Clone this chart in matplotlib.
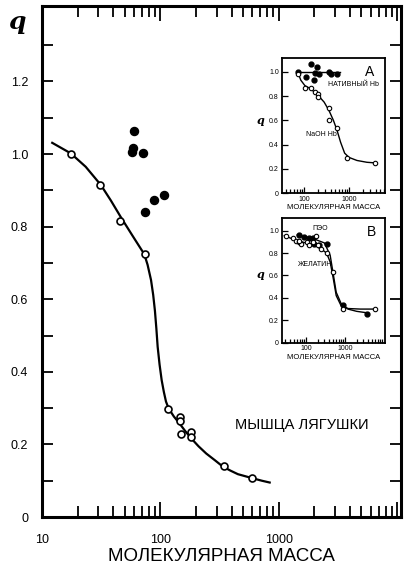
import matplotlib
matplotlib.use("Agg")
import matplotlib.pyplot as plt
from matplotlib.ticker import FixedLocator, NullFormatter, FixedFormatter, LogLocator

plt.rcParams['font.family'] = ['Liberation Sans', 'DejaVu Sans']

# main plot: frog muscle
frog_mw = [17.6, 31, 46, 74, 117, 146, 146, 150, 182, 182, 342, 590]
frog_q = [1.0, 0.915, 0.816, 0.726, 0.297, 0.276, 0.265, 0.229, 0.235, 0.221, 0.140, 0.107]
frog_curve_mw = [12.2, 17.5, 23.4, 31.4, 38.2, 46.4, 58.2, 73.2, 78, 83.4, 87, 90, 92.5,
                 94.9, 98.5, 102.6, 107, 111.6, 117.5, 130, 145, 162, 182, 210, 244, 290,
                 337, 390, 452, 598, 720, 839]
frog_curve_q = [1.031, 1.002, 0.965, 0.915, 0.872, 0.826, 0.775, 0.724, 0.695, 0.653,
                0.612, 0.568, 0.52, 0.469, 0.42, 0.377, 0.345, 0.318, 0.299, 0.277, 0.258,
                0.237, 0.217, 0.195, 0.175, 0.156, 0.139, 0.128, 0.118, 0.107, 0.1, 0.095]
filled_mw = [59.4, 57.5, 59, 70.7, 74.6, 87.7, 108]
filled_q = [1.064, 1.006, 1.016, 1.004, 0.841, 0.873, 0.887]

# inset A: haemoglobin
naoh_mw = [72, 105, 141, 176, 208, 208, 366, 355, 533, 920, 3800]
naoh_q = [0.98, 0.868, 0.868, 0.83, 0.82, 0.795, 0.70, 0.60, 0.54, 0.293, 0.247]
naoh_curve_mw = [72, 85, 105, 140, 200, 280, 360, 450, 540, 650, 800, 1000, 1500, 2500, 3800]
naoh_curve_q = [1.0, 0.93, 0.885, 0.86, 0.81, 0.75, 0.68, 0.60, 0.52, 0.42, 0.33, 0.295, 0.27, 0.255, 0.25]
native_mw = [72, 110, 141, 167, 180, 196, 213, 355, 397, 533]
native_q = [1.0, 0.96, 1.06, 0.93, 0.99, 1.04, 0.98, 1.0, 0.98, 0.98]
native_line_mw = [72, 630]
native_line_q = [1.0, 1.0]

# inset B: gelatin and PEO
gel_mw = [31, 46, 55, 65, 74, 67, 110, 117, 148, 180, 199, 243, 340, 483, 870, 6000]
gel_q = [0.955, 0.93, 0.91, 0.895, 0.88, 0.91, 0.895, 0.87, 0.90, 0.955, 0.87, 0.835, 0.80, 0.63, 0.30, 0.30]
gel_curve_mw = [28, 50, 100, 200, 340, 420, 500, 600, 800, 1200, 2500, 6000]
gel_curve_q = [0.955, 0.92, 0.89, 0.86, 0.80, 0.72, 0.58, 0.42, 0.33, 0.305, 0.30, 0.30]
peo_mw = [67, 91, 122, 148, 164, 220, 340, 910, 3600]
peo_q = [0.96, 0.94, 0.93, 0.93, 0.885, 0.87, 0.885, 0.34, 0.255]
peo_curve_mw = [60, 150, 300, 420, 500, 600, 800, 1200, 2000, 4000]
peo_curve_q = [0.96, 0.93, 0.89, 0.78, 0.62, 0.45, 0.35, 0.30, 0.28, 0.265]

W, H = 407, 568
fig = plt.figure(figsize=(W / 100, H / 100), dpi=100)

ax = fig.add_axes([42 / W, 1 - 517 / H, (401 - 42) / W, (517 - 6) / H])
ax.set_xscale('log')
ax.set_xlim(10, 10800)
ax.set_ylim(0, 1.408)
ax.plot(frog_curve_mw, frog_curve_q, color='black', lw=1.6, solid_joinstyle='round')
ax.plot(frog_mw, frog_q, 'o', mfc='white', mec='black', mew=1.2, ms=5)
ax.plot(filled_mw, filled_q, 'o', color='black', ms=5.8)

for s in ax.spines.values():
    s.set_linewidth(2.2)
ax.xaxis.set_major_locator(FixedLocator([10, 100, 1000, 10000]))
ax.xaxis.set_major_formatter(FixedFormatter(['10', '100', '1000', '']))
ax.xaxis.set_minor_locator(LogLocator(base=10, subs=range(2, 10)))
ax.xaxis.set_minor_formatter(NullFormatter())
yt = [i / 10 for i in range(0, 14)]
ax.yaxis.set_major_locator(FixedLocator(yt))
ax.yaxis.set_major_formatter(FixedFormatter(
    ['0', '', '0.2', '', '0.4', '', '0.6', '', '0.8', '', '1.0', '', '1.2', '']))
ax.tick_params(which='both', direction='in', top=True, right=True, width=1.3, labelsize=9)
ax.tick_params(axis='x', which='major', length=11, pad=12)
ax.tick_params(axis='x', which='minor', length=8)
ax.tick_params(axis='y', which='major', length=8, pad=10)
ax.set_xlabel('МОЛЕКУЛЯРНАЯ МАССА', fontsize=13.5, labelpad=2)
fig.text(17 / W, 1 - 22 / H, 'q', fontsize=18, fontstyle='italic', fontweight='bold',
         family='DejaVu Serif', ha='center', va='center')
ax.text(1570, 0.254, 'МЫШЦА ЛЯГУШКИ', fontsize=10.5, ha='center', va='center')


def style_inset(a, xlim):
    a.set_xscale('log')
    a.set_xlim(*xlim)
    a.set_ylim(0, 1.11)
    for s in a.spines.values():
        s.set_linewidth(1.3)
    a.xaxis.set_major_locator(FixedLocator([100, 1000]))
    a.xaxis.set_major_formatter(FixedFormatter(['100', '1000']))
    a.xaxis.set_minor_locator(LogLocator(base=10, subs=range(2, 10)))
    a.xaxis.set_minor_formatter(NullFormatter())
    a.yaxis.set_major_locator(FixedLocator([0, 0.2, 0.4, 0.6, 0.8, 1.0]))
    a.yaxis.set_major_formatter(FixedFormatter(['0', '0.2', '0.4', '0.6', '0.8', '1.0']))
    a.tick_params(which='both', direction='in', labelsize=5, width=0.9, pad=2)
    a.tick_params(which='major', length=4)
    a.tick_params(which='minor', length=3)
    a.set_xlabel('МОЛЕКУЛЯРНАЯ МАССА', fontsize=5.5, labelpad=1)
    a.set_ylabel('q', fontsize=8, fontstyle='italic', fontweight='bold', rotation=0,
                 labelpad=6, family='DejaVu Serif')


axa = fig.add_axes([281.7 / W, 1 - 193.3 / H, (385 - 281.7) / W, (193.3 - 58.3) / H])
style_inset(axa, (32, 6300))
axa.plot(naoh_curve_mw, naoh_curve_q, color='black', lw=1.0)
axa.plot(native_line_mw, native_line_q, color='black', lw=1.0)
axa.plot(native_mw, native_q, 'o', color='black', ms=3.5)
axa.plot(naoh_mw, naoh_q, 'o', mfc='white', mec='black', mew=0.8, ms=3.2)
axa.text(2900, 1.0, 'А', fontsize=10, ha='center', va='center')
axa.text(1250, 0.895, 'НАТИВНЫЙ Hb', fontsize=5, ha='center', va='center')
axa.text(240, 0.48, 'NaOH Hb', fontsize=5, ha='center', va='center')

axb = fig.add_axes([281.7 / W, 1 - 342.7 / H, (385 - 281.7) / W, (342.7 - 218.3) / H])
style_inset(axb, (24, 10700))
axb.plot(gel_curve_mw, gel_curve_q, color='black', lw=1.0)
axb.plot(peo_curve_mw, peo_curve_q, color='black', lw=1.0)
axb.plot(peo_mw, peo_q, 'o', color='black', ms=3.5)
axb.plot(gel_mw, gel_q, 'o', mfc='white', mec='black', mew=0.8, ms=3.2)
axb.text(4700, 0.99, 'В', fontsize=10, ha='center', va='center')
axb.text(230, 1.02, 'ПЭО', fontsize=5, ha='center', va='center')
axb.text(170, 0.70, 'ЖЕЛАТИН', fontsize=5, ha='center', va='center')

fig.savefig('out.png', dpi=100)
